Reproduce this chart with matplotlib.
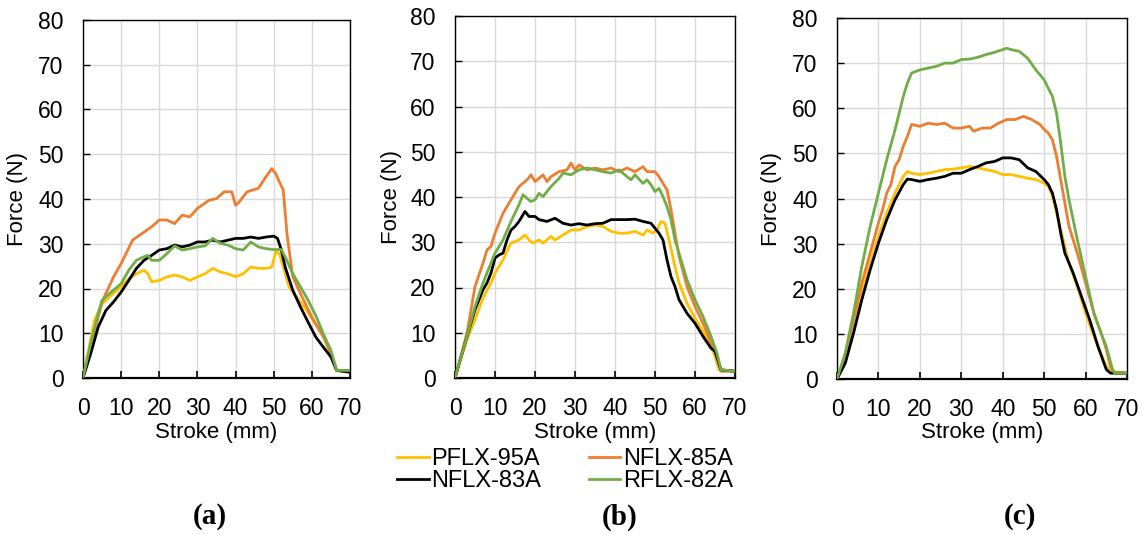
import matplotlib
matplotlib.use("Agg")
import matplotlib.pyplot as plt

plt.rcParams['font.family'] = ['Liberation Sans', 'DejaVu Sans']

series_names = ["PFLX-95A", "NFLX-85A", "NFLX-83A", "RFLX-82A"]
colors = {"PFLX-95A": "#FFC000", "NFLX-85A": "#ED7D31",
          "NFLX-83A": "#000000", "RFLX-82A": "#70AD47"}

# ---------------- Panel (a) ----------------
a_p95_x = [0, 3, 5, 8, 10, 12, 14, 16, 17, 18, 20, 22, 24, 26, 28, 30, 32, 34, 36, 38, 40, 42, 44, 46, 48, 49.5, 50.5, 51.5, 52.5, 54, 56, 58, 60, 62, 64, 66.5, 70]
a_p95_y = [0, 12.9, 16.6, 18.9, 20.4, 22.2, 23.3, 24.1, 23.3, 21.5, 21.8, 22.6, 23.0, 22.6, 21.8, 22.6, 23.3, 24.5, 23.7, 23.3, 22.6, 23.3, 24.8, 24.5, 24.5, 24.8, 28.2, 27.8, 24.8, 20.4, 18.1, 15.9, 13.3, 10.7, 7.7, 1.7, 1.3]
a_n85_x = [0, 5, 8, 10, 13, 15, 18, 20, 22, 24, 26, 28, 30, 33, 35, 37, 39, 40, 41, 43, 46, 48, 49.5, 50.5, 51.5, 52.5, 53.5, 55, 57, 60, 63, 65, 66.5, 70]
a_n85_y = [0, 17, 22.6, 25.6, 30.8, 32, 33.8, 35.3, 35.3, 34.5, 36.4, 36, 37.9, 39.7, 40.1, 41.6, 41.6, 38.6, 39.4, 41.6, 42.4, 45, 46.8, 45.7, 43.8, 42, 32, 22.6, 18.9, 13.6, 9.2, 5.4, 1.7, 1.3]
a_n83_x = [0, 2, 4, 6, 8, 10, 12, 14, 16, 18, 20, 22, 24, 26, 28, 30, 32, 34, 36, 38, 40, 42, 44, 46, 48, 50, 51, 52, 53, 55, 57, 59, 61, 63, 65, 66.5, 70]
a_n83_y = [0, 5.4, 11.4, 15.1, 17, 19.2, 21.8, 24.5, 26.3, 27.4, 28.6, 28.9, 29.7, 29.3, 29.7, 30.4, 30.4, 30.8, 30.4, 30.8, 31.2, 31.2, 31.5, 31.2, 31.5, 31.7, 31.2, 28.6, 24.8, 19.6, 15.9, 12.5, 9.2, 6.9, 4.7, 1.7, 1.3]
a_r82_x = [0, 2, 4, 5, 7, 10, 12, 14, 16, 17, 18, 20, 22, 24, 26, 28, 30, 32, 34, 36, 38, 40, 42, 44, 46, 48, 50, 52, 53, 55, 57, 59, 61, 63, 65, 66.5, 70]
a_r82_y = [0, 7.7, 14.4, 17.4, 18.9, 21.1, 24.1, 26.3, 27.1, 27.4, 26.3, 26.3, 27.8, 29.5, 28.6, 28.9, 29.3, 29.5, 31.2, 30.1, 29.7, 28.9, 28.6, 30.4, 29.3, 28.9, 28.7, 28.7, 27.1, 23.3, 20.4, 17.4, 14.0, 9.9, 6.2, 1.7, 1.7]

# ---------------- Panel (b) ----------------
b_p95_x = [0, 3, 4, 5, 7, 9, 10, 12, 13, 14, 16, 17.5, 18.5, 19.5, 21, 22, 24, 25, 27, 29, 31, 33, 35, 37, 39, 41, 43, 45, 47, 48, 49.5, 50.5, 51.5, 52.5, 53.5, 55, 56, 58, 60, 62, 64, 65, 66, 70]
b_p95_y = [0, 8.5, 10.7, 12.9, 17.7, 21, 23.2, 26.1, 28, 29.8, 30.5, 31.6, 30.5, 29.8, 30.5, 29.8, 31.3, 30.5, 31.6, 32.7, 32.7, 33.5, 33.8, 33.5, 32.4, 32, 32, 32.4, 31.6, 32.7, 32, 32.7, 34.6, 34.2, 30.5, 24.6, 21, 16.5, 13.2, 10.3, 7, 4.8, 1.8, 1.5]
b_n85_x = [0, 3, 5, 7, 8, 9, 10, 12, 14, 16, 18, 19, 20, 22, 23, 24, 26, 28, 29, 30, 31, 33, 35, 37, 39, 41, 43, 45, 47, 48, 50, 51, 52, 53, 54, 55, 56, 58, 60, 62, 64, 65, 66.5, 70]
b_n85_y = [0, 9.9, 20.2, 25.4, 28.3, 29.1, 32, 36.4, 39.4, 42.3, 43.8, 44.9, 43.4, 44.9, 43.4, 44.5, 45.6, 46, 47.5, 46, 47.1, 46, 46.4, 46, 46.4, 45.6, 46.4, 45.6, 46.7, 45.6, 45.6, 44.5, 43, 41.6, 37.2, 32, 26.9, 20.2, 15.8, 12.1, 7.7, 6.3, 1.5, 1.5]
b_n83_x = [0, 3, 5, 7, 8, 9, 10, 11, 12, 13, 14, 15, 16, 17.5, 18.5, 20, 21, 23, 25, 27, 29, 31, 33, 35, 37, 39, 41, 43, 45, 47, 49, 50, 51, 52, 53, 54, 55, 56, 58, 60, 62, 64, 65, 66.5, 70]
b_n83_y = [0, 9.2, 15.1, 19.5, 21, 23.2, 26.5, 27.2, 27.6, 30.5, 32.7, 33.5, 34.6, 36.8, 35.7, 35.7, 35, 34.6, 35.3, 34.2, 33.8, 34.1, 33.8, 34.1, 34.2, 35, 35, 35, 35.1, 34.6, 34.2, 33.1, 32, 30.5, 26.1, 22.4, 20.2, 17.3, 14.3, 12.1, 9.2, 6.6, 5.9, 1.8, 1.5]
b_r82_x = [0, 3, 5, 7, 9, 10, 12, 14, 16, 17, 18, 19, 20, 21, 22, 24, 26, 27, 29, 31, 33, 35, 37, 39, 41, 43, 44, 45, 47, 48, 49, 50, 51, 52, 53, 54, 55, 56, 58, 60, 62, 64, 65.5, 66.5, 70]
b_r82_y = [0, 9.2, 15.8, 21, 25.4, 27.6, 30.5, 34.6, 38.3, 40.5, 39.7, 39, 39.4, 40.8, 40.1, 42.3, 44.1, 45.3, 44.9, 46, 46.4, 46, 45.6, 45.3, 46, 44.5, 43.8, 44.9, 43, 43.8, 42.7, 41.2, 41.9, 40.1, 37.9, 35, 30.5, 27.6, 21.7, 17.3, 13.6, 9.2, 5.5, 1.8, 1.5]

# ---------------- Panel (c) ----------------
c_p95_x = [0, 2, 4, 6, 8, 10, 12, 14, 16, 17, 18, 20, 22, 24, 26, 28, 30, 32, 34, 36, 38, 40, 42, 44, 46, 48, 50, 51, 52, 53, 54, 55, 56, 58, 60, 62, 64, 65, 66, 70]
c_p95_y = [0, 4.3, 11.7, 19.1, 25.7, 31.6, 36.8, 41.2, 44.9, 46, 45.6, 45.3, 45.6, 46, 46.4, 46.5, 46.8, 47.1, 46.8, 46.4, 46, 45.3, 45.3, 44.9, 44.5, 44.2, 43.4, 42.7, 40.5, 36.8, 33.1, 29.4, 25.7, 20.5, 14.6, 9.5, 5, 2.8, 1.7, 1.3]
c_n85_x = [0, 2, 4, 6, 8, 10, 11, 12, 13, 14, 15, 16, 17, 18, 20, 22, 24, 26, 28, 30, 32, 33, 35, 37, 39, 41, 43, 45, 47, 49, 50, 51, 52, 53, 54, 55, 56, 58, 60, 62, 64, 65, 66, 67, 70]
c_n85_y = [0, 5, 13.1, 21.3, 27.9, 34.6, 37.5, 41.2, 43.1, 47.1, 48.6, 51.6, 53.8, 56.4, 56, 56.7, 56.4, 56.7, 55.6, 55.6, 56, 54.9, 55.6, 55.6, 56.7, 57.5, 57.5, 58.2, 57.5, 56.4, 55.3, 54.5, 53, 49.3, 44.2, 39, 33.8, 27.9, 21.3, 14.6, 9.5, 6.5, 2.8, 1.3, 1.3]
c_n83_x = [0, 2, 4, 6, 8, 10, 12, 14, 16, 17, 18, 20, 22, 24, 26, 28, 30, 32, 34, 36, 38, 40, 42, 44, 46, 48, 50, 51, 52, 53, 54, 55, 57, 59, 61, 63, 65, 66, 70]
c_n83_y = [0, 3.5, 10.2, 17.6, 24.2, 30.1, 35.3, 39.7, 43.1, 44.3, 44.2, 43.8, 44.2, 44.5, 44.9, 45.6, 45.6, 46.4, 47.1, 47.9, 48.2, 49, 49, 48.6, 46.8, 46, 44.2, 43.1, 41.2, 37.5, 32.3, 27.9, 23.5, 18.3, 13.1, 7.2, 2.1, 1.3, 1.3]
c_r82_x = [0, 2, 4, 6, 8, 10, 12, 14, 16, 17, 18, 20, 22, 24, 26, 28, 30, 32, 34, 36, 38, 40, 41, 42, 44, 46, 48, 50, 52, 53, 54, 55, 56, 58, 60, 62, 64, 65, 66.5, 67, 70]
c_r82_y = [0, 5.8, 14.6, 25, 33.8, 41.2, 48.6, 55.2, 62.6, 65.6, 67.8, 68.5, 68.9, 69.3, 70, 70, 70.8, 70.9, 71.3, 71.9, 72.4, 73, 73.3, 73, 72.6, 71.1, 68.5, 66.3, 62.6, 58.9, 52.3, 44.9, 39.7, 30.9, 22.7, 14.6, 9.5, 7.2, 2.1, 1.3, 1.3]

panels = [
    ("(a)", [(a_p95_x, a_p95_y), (a_n85_x, a_n85_y), (a_n83_x, a_n83_y), (a_r82_x, a_r82_y)]),
    ("(b)", [(b_p95_x, b_p95_y), (b_n85_x, b_n85_y), (b_n83_x, b_n83_y), (b_r82_x, b_r82_y)]),
    ("(c)", [(c_p95_x, c_p95_y), (c_n85_x, c_n85_y), (c_n83_x, c_n83_y), (c_r82_x, c_r82_y)]),
]

x_ticks = [0, 10, 20, 30, 40, 50, 60, 70]
y_ticks = [0, 10, 20, 30, 40, 50, 60, 70, 80]

W, H = 1146, 534
fig = plt.figure(figsize=(W / 100, H / 100), dpi=100)

boxes = [(83, 20, 350, 378), (455, 16, 735, 378), (837, 18, 1127, 379)]
label_x = [210, 620, 1020]
ylabel_right = [28, 402, 782]

handles = {}
for (title, data), (l, t, r, b), lx, ylx in zip(panels, boxes, label_x, ylabel_right):
    ax = fig.add_axes([l / W, 1 - b / H, (r - l) / W, (b - t) / H])
    for name, (xs, ys) in zip(series_names, data):
        ln, = ax.plot(xs, ys, color=colors[name], lw=2.0, label=name,
                      solid_joinstyle='round', zorder=3 if name != "PFLX-95A" else 2)
        handles[name] = ln
    ax.set_xlim(0, 70)
    ax.set_ylim(0, 80)
    ax.set_xticks(x_ticks)
    ax.set_yticks(y_ticks)
    ax.grid(True, color="#d9d9d9", lw=1.0, zorder=0)
    ax.set_axisbelow(True)
    for s in ax.spines.values():
        s.set_color("black")
        s.set_linewidth(1.0)
    ax.spines['bottom'].set_linewidth(1.6)
    ax.tick_params(axis='x', direction='in', length=5, width=1.2, pad=13.5, labelsize=16.5)
    ax.tick_params(axis='y', direction='in', length=5, width=1.0, pad=14, labelsize=16.5)
    ax.set_xlabel("Stroke (mm)", fontsize=16)
    ax.xaxis.set_label_coords(0.5, (b - 422) / (b - t))
    ax.set_ylabel("Force (N)", fontsize=16)
    ax.yaxis.set_label_coords((ylx - l) / (r - l), 0.5)
    fig.text(lx / W, 1 - 517 / H, title, ha='center', va='center',
             fontsize=21, fontweight='bold', family=['Liberation Serif', 'DejaVu Serif'])

order = ["PFLX-95A", "NFLX-83A", "NFLX-85A", "RFLX-82A"]
fig.legend([handles[n] for n in order], order, ncol=2, loc='center',
           bbox_to_anchor=(565 / W, 1 - 470 / H), frameon=False, fontsize=17,
           handlelength=1.35, handletextpad=0.1, columnspacing=2.0,
           labelspacing=0.0, borderpad=0)

fig.savefig("out.png", dpi=100)
